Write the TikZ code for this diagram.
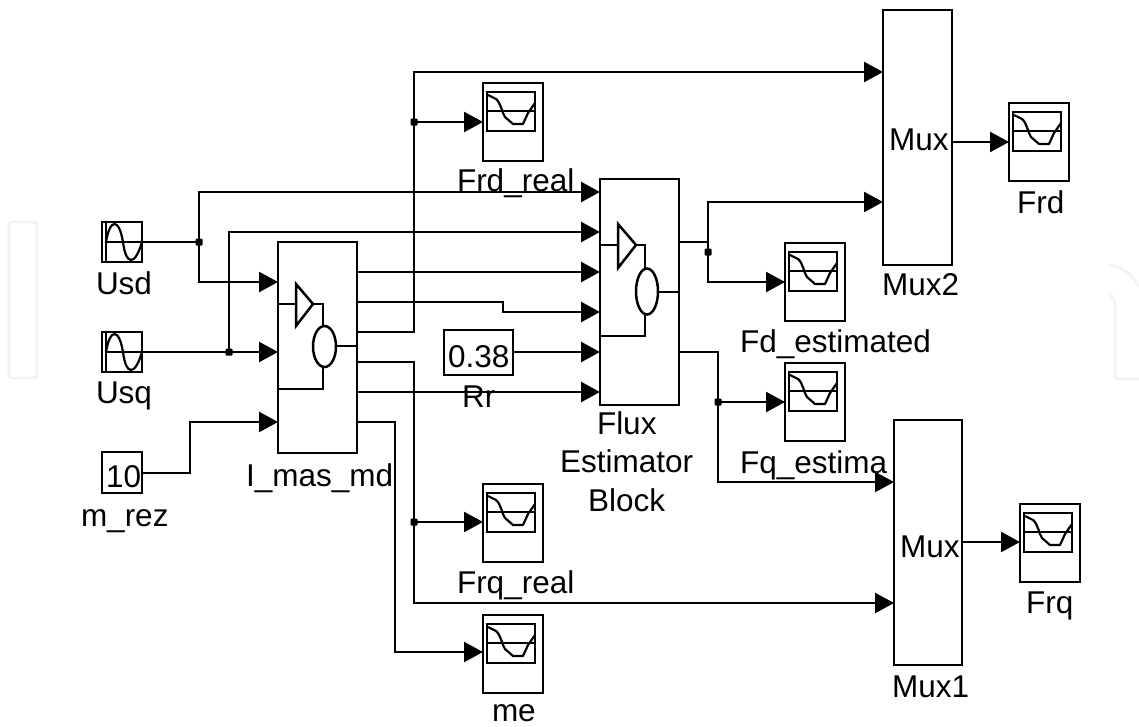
\documentclass[tikz,border=0pt]{standalone}
\usepackage{fontspec}
\setmainfont{Liberation Sans}
\usetikzlibrary{arrows.meta}
\tikzset{
  x=1pt,y=-1pt,
  wire/.style={line width=2.5pt,black,miter limit=10},
  sig/.style={wire,-{Triangle[length=19pt,width=20pt]}},
  blk/.style={draw=black,line width=2.5pt,fill=white,inner sep=0pt,outer sep=0pt,anchor=north west},
  txt/.style={font=\fontsize{31.5}{36}\selectfont,inner sep=0pt,outer sep=0pt,anchor=base west,text=black},
  thin wave/.style={line width=2.2pt,black,line join=round},
  dotj/.style={rectangle,rounded corners=1pt,fill=black,inner sep=0pt,outer sep=0pt,minimum size=7pt},
  wm/.style={draw=black!5,line width=2.6pt,line join=round}
}
\newcommand{\scopeicon}[3]{%
  \node[blk,minimum width=60pt,minimum height=78pt] (#1) at (#2,#3) {};
  \begin{scope}[shift={(#2,#3)}]
    \draw[wire] (4,9) rectangle (52,48);
    \draw[wire] (4,28) -- (52,28);
    \draw[thin wave] (5,12) -- (13,16) .. controls (18,20) and (19,30) .. (22,34) -- (30,41) -- (40,41) -- (45,30) -- (52,20);
  \end{scope}}
\newcommand{\sourceicon}[3]{%
  \node[blk,minimum width=40pt,minimum height=40pt] (#1) at (#2,#3) {};
  \begin{scope}[shift={(#2,#3)}]
    \draw[wire] (4,0) -- (4,40);
    \draw[thin wave] (4,20) .. controls (8,-4) and (17,-4) .. (21,20) .. controls (24,44) and (33,44) .. (40,20);
  \end{scope}}
\begin{document}
\begin{tikzpicture}
\useasboundingbox (0,0) rectangle (1139,726);
\fill[white] (0,0) rectangle (1139,726);
% faint background mark
\draw[wm,rounded corners=3pt] (9,222) rectangle (37,378);
\draw[wm] (1109,265) .. controls (1122,266) and (1132,274) .. (1139,287);
\draw[wm,rounded corners=3pt] (1109,293) .. controls (1113,297) and (1115,302) .. (1115,308) -- (1115,379) -- (1139,379);

% blocks
\sourceicon{usd}{102}{222}
\sourceicon{usq}{102}{332}
\node[blk,minimum width=40pt,minimum height=41pt] (mrez) at (102,452) {};
\node[blk,minimum width=79pt,minimum height=211pt] (imas) at (278,242) {};
\node[blk,minimum width=69pt,minimum height=45pt] (rr) at (444,330) {};
\node[blk,minimum width=79pt,minimum height=226pt] (flux) at (600,179) {};
\node[blk,minimum width=69pt,minimum height=255pt] (mux2) at (883,10) {};
\node[blk,minimum width=68pt,minimum height=245pt] (mux1) at (894,420) {};
\scopeicon{sfrdreal}{483}{83}
\scopeicon{sfrqreal}{483}{484}
\scopeicon{sme}{483}{615}
\scopeicon{sfd}{785}{243}
\scopeicon{sfq}{785}{363}
\scopeicon{sfrd}{1009}{103}
\scopeicon{sfrq}{1020}{504}

% block glyphs
\draw[wire] (278,304) -- (296,304);
\draw[wire] (296,284) -- (296,326) -- (313,304) -- cycle;
\draw[wire] (313,304) -- (323,304) -- (323,326);
\draw[wire] (324.5,346.5) ellipse [x radius=11.5,y radius=20.5];
\draw[wire] (323,367) -- (323,389) -- (278,389);
\draw[wire] (336,346) -- (357,346);
\draw[wire] (600,245) -- (618,245);
\draw[wire] (618,224) -- (618,268) -- (636,245) -- cycle;
\draw[wire] (636,245) -- (645,245) -- (645,268);
\draw[wire] (647,291.5) ellipse [x radius=11,y radius=23];
\draw[wire] (645,315) -- (645,336) -- (600,336);
\draw[wire] (658,292) -- (679,292);

% texts
\node[txt] (tusd) at (96,294) {Usd};
\node[txt] (tusq) at (96,403) {Usq};
\node[txt] (t10) at (106,487) {10};
\node[txt] (tmrez) at (81,526) {m\_rez};
\node[txt] (timas) at (246,486) {I\_mas\_md};
\node[txt] (t038) at (448,367) {0.38};
\node[txt] (trr) at (462,407) {Rr};
\node[txt] (tfrdreal) at (457,191) {Frd\_real};
\node[txt] (tfrqreal) at (457,593) {Frq\_real};
\node[txt] (tme) at (492,721) {me};
\node[txt] (tflux1) at (597,434) {Flux};
\node[txt] (tflux2) at (560,472) {Estimator};
\node[txt] (tflux3) at (588,511) {Block};
\node[txt] (tfd) at (740,352) {Fd\_estimated};
\node[txt] (tfq) at (740,473) {Fq\_estima};
\node[txt] (tmux2in) at (889,150) {Mux};
\node[txt] (tmux1in) at (900,557) {Mux};
\node[txt] (tmux2) at (882,295) {Mux2};
\node[txt] (tmux1) at (892,697) {Mux1};
\node[txt] (tfrd) at (1017,213) {Frd};
\node[txt] (tfrq) at (1026,613) {Frq};

% junctions
\node[dotj] (j1) at (199,242) {};
\node[dotj] (j2) at (229,352) {};
\node[dotj] (j3) at (414,122) {};
\node[dotj] (j4) at (414,522) {};
\node[dotj] (j5) at (708,252) {};
\node[dotj] (j6) at (718,402) {};

% connectors
\draw[wire] (usd.west |- j1) ++(4,0) -- (j1);
\draw[sig] (j1.center) |- (flux.west |- 0,192);
\draw[sig] (j1.center) |- (imas.west |- 0,282);
\draw[sig] (usq.west |- j2) ++(4,0) -- (imas.west |- j2);
\draw[sig] (j2.center) |- (flux.west |- 0,232);
\draw[sig] (mrez.east |- 0,473) -- (190,473) |- (imas.west |- 0,422);
\draw[sig] (imas.east |- 0,272) -- (flux.west |- 0,272);
\draw[sig] (imas.east |- 0,302) -- (503,302) |- (flux.west |- 0,312);
\draw[sig] (imas.east |- 0,332) -| (414,72) -- (mux2.west |- 0,72);
\draw[sig] (j3.center) -- (sfrdreal.west |- j3);
\draw[sig] (imas.east |- 0,362) -| (414,603) -- (mux1.west |- 0,603);
\draw[sig] (j4.center) -- (sfrqreal.west |- j4);
\draw[sig] (imas.east |- 0,392) -- (flux.west |- 0,392);
\draw[sig] (imas.east |- 0,422) -| (395,652) -- (sme.west |- 0,652);
\draw[sig] (rr.east |- 0,352) -- (flux.west |- 0,352);
\draw[wire] (flux.east |- 0,242) -| (j5.center);
\draw[sig] (j5.center) |- (mux2.west |- 0,202);
\draw[sig] (j5.center) |- (sfd.west |- 0,282);
\draw[sig] (flux.east |- 0,352) -| (718,482) -- (mux1.west |- 0,482);
\draw[sig] (j6.center) -- (sfq.west |- j6);
\draw[sig] (mux2.east |- 0,142) -- (sfrd.west |- 0,142);
\draw[sig] (mux1.east |- 0,542) -- (sfrq.west |- 0,542);
\end{tikzpicture}
\end{document}
